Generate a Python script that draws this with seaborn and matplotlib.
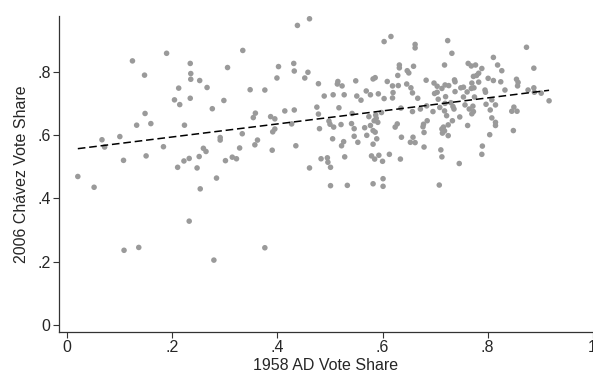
import numpy as np
import pandas as pd
import matplotlib
matplotlib.use("Agg")
import matplotlib.pyplot as plt
import seaborn as sns

# 1958 AD vote share (x) and 2006 Chavez vote share (y)
ad_1958 = [
    0.124, 0.189, 0.147, 0.212, 0.204, 0.214, 0.148, 0.132, 0.159, 0.223,
    0.066, 0.100, 0.071, 0.183, 0.150, 0.107, 0.461, 0.438, 0.334, 0.234,
    0.305, 0.402, 0.431, 0.235, 0.432, 0.458, 0.235, 0.252, 0.399, 0.452,
    0.266, 0.348, 0.376, 0.234, 0.298, 0.276, 0.358, 0.354, 0.387, 0.395,
    0.414, 0.432, 0.427, 0.395, 0.391, 0.333, 0.291, 0.291, 0.362, 0.357,
    0.328, 0.435, 0.259, 0.264, 0.390, 0.251, 0.232, 0.314, 0.322, 0.301,
    0.616, 0.603, 0.662, 0.662, 0.632, 0.632, 0.659, 0.647, 0.650, 0.586,
    0.582, 0.629, 0.683, 0.478, 0.515, 0.514, 0.523, 0.549, 0.609, 0.619,
    0.630, 0.646, 0.654, 0.698, 0.569, 0.577, 0.592, 0.489, 0.506, 0.527,
    0.551, 0.559, 0.603, 0.619, 0.620, 0.657, 0.667, 0.699, 0.475, 0.517,
    0.478, 0.542, 0.574, 0.587, 0.598, 0.588, 0.591, 0.584, 0.635, 0.657,
    0.672, 0.684, 0.696, 0.685, 0.498, 0.500, 0.507, 0.480, 0.521, 0.541,
    0.546, 0.566, 0.577, 0.582, 0.586, 0.628, 0.624, 0.678, 0.677, 0.679,
    0.505, 0.546, 0.570, 0.589, 0.636, 0.658, 0.526, 0.522, 0.553, 0.582,
    0.653, 0.662, 0.679, 0.483, 0.495, 0.528, 0.579, 0.593, 0.613, 0.585,
    0.634, 0.724, 0.732, 0.874, 0.811, 0.718, 0.763, 0.769, 0.777, 0.819,
    0.789, 0.888, 0.783, 0.827, 0.773, 0.779, 0.704, 0.719, 0.726, 0.737,
    0.738, 0.770, 0.783, 0.801, 0.811, 0.825, 0.855, 0.858, 0.857, 0.713,
    0.738, 0.749, 0.754, 0.769, 0.774, 0.761, 0.795, 0.796, 0.833, 0.877,
    0.888, 0.889, 0.902, 0.917, 0.704, 0.720, 0.706, 0.754, 0.775, 0.730,
    0.719, 0.734, 0.757, 0.772, 0.808, 0.797, 0.815, 0.805, 0.765, 0.709,
    0.718, 0.736, 0.770, 0.773, 0.722, 0.846, 0.850, 0.856, 0.747, 0.733,
    0.808, 0.815, 0.815, 0.725, 0.716, 0.713, 0.718, 0.762, 0.714, 0.725,
    0.804, 0.849, 0.711, 0.790, 0.713, 0.789, 0.020, 0.051, 0.210, 0.222,
    0.108, 0.136, 0.247, 0.284, 0.253, 0.461, 0.232, 0.376, 0.279, 0.496,
    0.501, 0.600, 0.501, 0.533, 0.582, 0.601, 0.601, 0.746, 0.708,
]
chavez_2006 = [
    0.834, 0.858, 0.789, 0.748, 0.711, 0.696, 0.668, 0.631, 0.636, 0.631,
    0.585, 0.595, 0.562, 0.563, 0.534, 0.520, 0.967, 0.946, 0.867, 0.826,
    0.813, 0.816, 0.826, 0.794, 0.802, 0.798, 0.776, 0.772, 0.780, 0.780,
    0.750, 0.743, 0.742, 0.716, 0.709, 0.683, 0.669, 0.655, 0.658, 0.651,
    0.676, 0.679, 0.635, 0.619, 0.610, 0.604, 0.592, 0.584, 0.584, 0.569,
    0.559, 0.566, 0.558, 0.548, 0.552, 0.532, 0.526, 0.530, 0.525, 0.519,
    0.911, 0.895, 0.886, 0.875, 0.821, 0.812, 0.817, 0.803, 0.796, 0.781,
    0.777, 0.788, 0.773, 0.762, 0.769, 0.761, 0.755, 0.771, 0.769, 0.755,
    0.756, 0.761, 0.749, 0.764, 0.739, 0.727, 0.730, 0.723, 0.727, 0.727,
    0.723, 0.710, 0.715, 0.717, 0.734, 0.733, 0.716, 0.731, 0.688, 0.686,
    0.666, 0.668, 0.658, 0.663, 0.671, 0.653, 0.640, 0.645, 0.685, 0.674,
    0.682, 0.692, 0.674, 0.645, 0.644, 0.634, 0.625, 0.620, 0.633, 0.636,
    0.620, 0.623, 0.630, 0.614, 0.609, 0.635, 0.625, 0.634, 0.626, 0.608,
    0.588, 0.596, 0.599, 0.588, 0.593, 0.593, 0.579, 0.566, 0.577, 0.571,
    0.577, 0.576, 0.562, 0.525, 0.528, 0.531, 0.534, 0.536, 0.539, 0.524,
    0.524, 0.898, 0.858, 0.877, 0.845, 0.821, 0.826, 0.818, 0.821, 0.821,
    0.810, 0.811, 0.795, 0.803, 0.785, 0.788, 0.754, 0.758, 0.756, 0.774,
    0.768, 0.764, 0.767, 0.779, 0.772, 0.768, 0.776, 0.766, 0.755, 0.747,
    0.737, 0.749, 0.751, 0.747, 0.749, 0.736, 0.742, 0.735, 0.742, 0.742,
    0.749, 0.735, 0.732, 0.708, 0.735, 0.721, 0.713, 0.720, 0.720, 0.702,
    0.700, 0.690, 0.695, 0.691, 0.711, 0.697, 0.695, 0.679, 0.682, 0.687,
    0.676, 0.682, 0.667, 0.674, 0.661, 0.675, 0.688, 0.675, 0.657, 0.645,
    0.654, 0.640, 0.630, 0.632, 0.625, 0.619, 0.613, 0.630, 0.606, 0.598,
    0.601, 0.614, 0.553, 0.565, 0.531, 0.539, 0.469, 0.435, 0.498, 0.518,
    0.236, 0.245, 0.496, 0.464, 0.430, 0.496, 0.328, 0.244, 0.205, 0.514,
    0.498, 0.517, 0.440, 0.441, 0.446, 0.462, 0.438, 0.510, 0.442,
]

x_ticks = [0, 0.2, 0.4, 0.6, 0.8, 1]
x_tick_labels = ["0", ".2", ".4", ".6", ".8", "1"]
y_ticks = [0, 0.2, 0.4, 0.6, 0.8]
y_tick_labels = ["0", ".2", ".4", ".6", ".8"]

df = pd.DataFrame({"ad": ad_1958, "chavez": chavez_2006})

sns.set_style("white")
plt.rcParams["font.family"] = ["Liberation Sans", "DejaVu Sans"]

fig = plt.figure(figsize=(5.93, 3.79), dpi=100)
ax = fig.add_axes([0.0995, 0.124, 0.9005, 0.834])

sns.scatterplot(data=df, x="ad", y="chavez", color="#9a9a9a", s=16,
                edgecolor="none", linewidth=0, ax=ax)
sns.regplot(data=df, x="ad", y="chavez", scatter=False, ci=None, truncate=True,
            line_kws={"color": "black", "linestyle": (0, (5, 2.5)), "linewidth": 1.1},
            ax=ax)

ax.set_xlim(-0.0158, 1.0006)
ax.set_ylim(-0.022, 0.976)
ax.set_xticks(x_ticks)
ax.set_xticklabels(x_tick_labels)
ax.set_yticks(y_ticks)
ax.set_yticklabels(y_tick_labels)
ax.tick_params(axis="both", direction="out", length=4, width=0.8, color="#333333",
               labelsize=11.5, pad=2, left=True, bottom=True)

ax.set_xlabel("1958 AD Vote Share", fontsize=11.5, labelpad=2)
ax.set_ylabel("2006 Chávez Vote Share", fontsize=11.5, labelpad=6)

for side in ["top", "right"]:
    ax.spines[side].set_visible(False)
for side in ["left", "bottom"]:
    ax.spines[side].set_color("#333333")
    ax.spines[side].set_linewidth(0.9)

fig.savefig("out.png", dpi=100, facecolor="white")
